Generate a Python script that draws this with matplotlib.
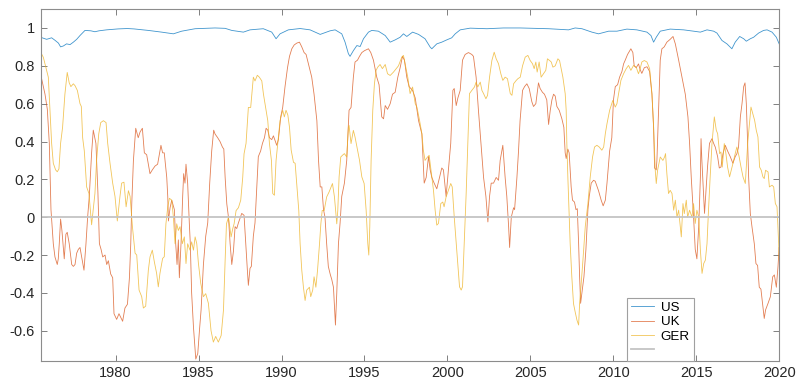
import matplotlib
matplotlib.use("Agg")
import matplotlib.pyplot as plt

plt.rcParams['font.family'] = ['Liberation Sans', 'DejaVu Sans']

# --- data (year, correlation) ---
us_t = [1975.50, 1975.84, 1976.14, 1976.34, 1976.55, 1976.68, 1976.85, 1977.04, 1977.25, 1977.45,
        1977.65, 1977.85, 1978.15, 1978.50, 1978.75, 1979.00, 1979.45, 1980.15, 1980.70, 1981.10,
        1981.97, 1982.77, 1983.48, 1983.98, 1984.79, 1985.99, 1986.60, 1987.00, 1987.70, 1988.10,
        1988.90, 1989.41, 1989.67, 1989.91, 1990.41, 1991.12, 1991.72, 1992.33, 1992.93, 1993.23,
        1993.63, 1993.83, 1994.03, 1994.13, 1994.33, 1994.54, 1994.74, 1994.94, 1995.24, 1995.44,
        1995.84, 1996.25, 1996.55, 1996.85, 1997.15, 1997.35, 1997.55, 1997.90, 1998.26, 1998.65,
        1998.96, 1999.06, 1999.36, 1999.66, 1999.96, 2000.26, 2000.47, 2000.77, 2001.37, 2002.38,
        2003.38, 2004.39, 2006.10, 2007.30, 2007.70, 2008.11, 2008.71, 2009.11, 2009.72, 2010.22,
        2010.82, 2011.42, 2012.03, 2012.27, 2012.43, 2012.59, 2012.83, 2013.43, 2014.24, 2014.84,
        2015.25, 2015.65, 2016.05, 2016.25, 2016.55, 2016.85, 2017.15, 2017.35, 2017.62, 2017.86,
        2018.02, 2018.26, 2018.46, 2018.76, 2019.06, 2019.27, 2019.57, 2019.83, 2020.00]
us_v = [0.950, 0.940, 0.948, 0.935, 0.920, 0.900, 0.905, 0.916, 0.912, 0.925,
        0.940, 0.960, 0.987, 0.985, 0.980, 0.985, 0.990, 0.995, 0.997, 0.995,
        0.987, 0.978, 0.969, 0.983, 0.996, 1.000, 0.998, 0.987, 0.978, 0.990,
        0.996, 0.978, 0.943, 0.969, 0.990, 0.997, 0.990, 0.966, 0.985, 0.990,
        0.969, 0.925, 0.864, 0.850, 0.880, 0.907, 0.902, 0.943, 0.978, 0.987,
        0.983, 0.960, 0.925, 0.937, 0.951, 0.969, 0.955, 0.978, 0.966, 0.943,
        0.899, 0.890, 0.916, 0.925, 0.937, 0.948, 0.969, 0.990, 0.999, 0.996,
        1.000, 1.000, 0.996, 0.990, 1.000, 0.996, 0.978, 0.969, 0.983, 0.983,
        0.994, 0.990, 0.978, 0.960, 0.925, 0.951, 0.983, 0.994, 0.990, 0.983,
        0.978, 0.990, 0.983, 0.973, 0.934, 0.916, 0.890, 0.925, 0.955, 0.943,
        0.930, 0.943, 0.951, 0.973, 0.987, 0.990, 0.978, 0.951, 0.916]

uk_t = [1975.49, 1975.74, 1975.88, 1976.00, 1976.10, 1976.24, 1976.34, 1976.48, 1976.54, 1976.60,
        1976.68, 1976.76, 1976.90, 1977.00, 1977.08, 1977.20, 1977.35, 1977.45, 1977.55, 1977.65,
        1977.75, 1977.85, 1977.95, 1978.09, 1978.21, 1978.31, 1978.41, 1978.55, 1978.65, 1978.81,
        1978.93, 1979.02, 1979.12, 1979.22, 1979.36, 1979.46, 1979.56, 1979.70, 1979.82, 1979.90,
        1980.06, 1980.20, 1980.42, 1980.56, 1980.71, 1980.83, 1980.91, 1980.97, 1981.07, 1981.21,
        1981.36, 1981.47, 1981.61, 1981.73, 1981.87, 1982.07, 1982.21, 1982.37, 1982.53, 1982.67,
        1982.73, 1982.83, 1982.93, 1983.08, 1983.14, 1983.18, 1983.28, 1983.38, 1983.54, 1983.62,
        1983.70, 1983.78, 1983.84, 1983.94, 1984.04, 1984.10, 1984.18, 1984.24, 1984.34, 1984.44,
        1984.50, 1984.58, 1984.69, 1984.83, 1984.95, 1985.05, 1985.15, 1985.29, 1985.43, 1985.55,
        1985.67, 1985.79, 1985.91, 1985.99, 1986.15, 1986.29, 1986.44, 1986.52, 1986.60, 1986.70,
        1986.80, 1986.90, 1987.00, 1987.10, 1987.20, 1987.30, 1987.40, 1987.60, 1987.74, 1987.84,
        1987.94, 1988.00, 1988.10, 1988.18, 1988.30, 1988.40, 1988.50, 1988.60, 1988.74, 1988.85,
        1988.97, 1989.07, 1989.17, 1989.27, 1989.41, 1989.51, 1989.71, 1989.81, 1989.95, 1990.07,
        1990.21, 1990.36, 1990.48, 1990.62, 1990.76, 1990.92, 1991.08, 1991.22, 1991.36, 1991.48,
        1991.62, 1991.82, 1991.96, 1992.13, 1992.23, 1992.33, 1992.43, 1992.53, 1992.62, 1992.72,
        1992.82, 1992.93, 1993.03, 1993.13, 1993.25, 1993.33, 1993.43, 1993.53, 1993.63, 1993.79,
        1993.93, 1994.07, 1994.19, 1994.33, 1994.43, 1994.58, 1994.70, 1994.84, 1995.00, 1995.24,
        1995.38, 1995.54, 1995.74, 1995.88, 1996.04, 1996.15, 1996.25, 1996.39, 1996.55, 1996.69,
        1996.85, 1997.01, 1997.15, 1997.29, 1997.41, 1997.55, 1997.69, 1997.90, 1998.06, 1998.26,
        1998.46, 1998.60, 1998.72, 1998.86, 1998.96, 1999.06, 1999.20, 1999.36, 1999.52, 1999.66,
        1999.76, 1999.92, 2000.06, 2000.20, 2000.33, 2000.41, 2000.53, 2000.63, 2000.77, 2000.91,
        2001.07, 2001.27, 2001.47, 2001.57, 2001.73, 2001.87, 2002.02, 2002.18, 2002.32, 2002.44,
        2002.54, 2002.64, 2002.78, 2002.94, 2003.08, 2003.18, 2003.34, 2003.48, 2003.58, 2003.69,
        2003.75, 2003.85, 2003.99, 2004.05, 2004.19, 2004.28, 2004.38, 2004.53, 2004.65, 2004.79,
        2004.93, 2005.09, 2005.19, 2005.33, 2005.49, 2005.59, 2005.73, 2005.85, 2005.99, 2006.10,
        2006.20, 2006.30, 2006.40, 2006.50, 2006.60, 2006.74, 2006.90, 2007.02, 2007.10, 2007.16,
        2007.26, 2007.34, 2007.46, 2007.54, 2007.66, 2007.75, 2007.83, 2007.91, 2007.97, 2008.03,
        2008.11, 2008.23, 2008.35, 2008.47, 2008.55, 2008.67, 2008.81, 2008.91, 2009.11, 2009.27,
        2009.39, 2009.52, 2009.62, 2009.78, 2009.91, 2010.01, 2010.12, 2010.26, 2010.38, 2010.52,
        2010.62, 2010.72, 2010.86, 2011.06, 2011.18, 2011.26, 2011.38, 2011.52, 2011.62, 2011.72,
        2011.87, 2012.03, 2012.19, 2012.33, 2012.43, 2012.49, 2012.59, 2012.63, 2012.73, 2012.83,
        2012.93, 2013.07, 2013.23, 2013.43, 2013.60, 2013.74, 2013.94, 2014.14, 2014.34, 2014.50,
        2014.60, 2014.70, 2014.84, 2014.94, 2015.04, 2015.15, 2015.25, 2015.29, 2015.34, 2015.44,
        2015.50, 2015.58, 2015.68, 2015.80, 2015.95, 2016.05, 2016.15, 2016.29, 2016.39, 2016.49,
        2016.61, 2016.75, 2016.89, 2017.05, 2017.21, 2017.35, 2017.45, 2017.55, 2017.66, 2017.76,
        2017.86, 2017.94, 2018.02, 2018.10, 2018.16, 2018.26, 2018.36, 2018.50, 2018.60, 2018.70,
        2018.80, 2018.90, 2019.00, 2019.10, 2019.18, 2019.33, 2019.47, 2019.61, 2019.71, 2019.83,
        2019.93, 2020.00]
uk_v = [0.75, 0.65, 0.57, 0.39, 0.04, -0.14, -0.21, -0.25, -0.22, -0.14,
        -0.01, -0.07, -0.22, -0.09, -0.08, -0.14, -0.25, -0.26, -0.25, -0.19,
        -0.17, -0.16, -0.21, -0.28, -0.14, 0.00, 0.11, 0.34, 0.46, 0.39,
        0.13, -0.14, -0.17, -0.21, -0.20, -0.25, -0.23, -0.30, -0.32, -0.51,
        -0.54, -0.51, -0.55, -0.48, -0.46, -0.32, -0.14, 0.07, 0.30, 0.47,
        0.42, 0.45, 0.47, 0.34, 0.33, 0.23, 0.25, 0.27, 0.28, 0.35,
        0.38, 0.34, 0.34, 0.21, 0.11, -0.02, 0.05, 0.09, 0.04, -0.14,
        -0.25, -0.12, -0.32, -0.14, 0.11, 0.23, 0.18, 0.28, 0.18, -0.03,
        -0.14, -0.40, -0.58, -0.75, -0.72, -0.60, -0.49, -0.25, -0.10, -0.03,
        0.18, 0.35, 0.46, 0.44, 0.42, 0.40, 0.37, 0.36, 0.21, 0.07,
        0.00, -0.14, -0.25, -0.18, -0.05, -0.06, -0.03, 0.02, 0.01, -0.14,
        -0.28, -0.36, -0.27, -0.26, -0.10, -0.03, 0.14, 0.32, 0.35, 0.39,
        0.42, 0.47, 0.46, 0.42, 0.41, 0.43, 0.38, 0.41, 0.53, 0.58,
        0.69, 0.79, 0.85, 0.89, 0.91, 0.92, 0.925, 0.90, 0.87, 0.86,
        0.81, 0.74, 0.65, 0.51, 0.30, 0.16, 0.16, 0.04, 0.00, -0.14,
        -0.26, -0.30, -0.33, -0.37, -0.57, -0.40, -0.14, -0.03, 0.11, 0.18,
        0.30, 0.565, 0.58, 0.74, 0.82, 0.83, 0.85, 0.87, 0.88, 0.89,
        0.87, 0.83, 0.74, 0.70, 0.53, 0.52, 0.59, 0.57, 0.60, 0.65,
        0.66, 0.74, 0.79, 0.85, 0.83, 0.74, 0.69, 0.67, 0.63, 0.51,
        0.44, 0.18, 0.21, 0.32, 0.25, 0.21, 0.18, 0.15, 0.21, 0.26,
        0.25, 0.11, 0.25, 0.39, 0.67, 0.68, 0.59, 0.63, 0.67, 0.83,
        0.86, 0.87, 0.86, 0.85, 0.74, 0.565, 0.39, 0.21, 0.11, -0.025,
        0.11, 0.18, 0.18, 0.21, 0.195, 0.30, 0.38, 0.21, 0.11, -0.05,
        -0.16, 0.00, 0.05, 0.04, 0.21, 0.34, 0.51, 0.67, 0.69, 0.705,
        0.68, 0.61, 0.585, 0.60, 0.71, 0.68, 0.66, 0.65, 0.62, 0.49,
        0.565, 0.62, 0.65, 0.64, 0.585, 0.565, 0.52, 0.475, 0.34, 0.31,
        0.36, 0.34, 0.16, 0.09, 0.08, 0.04, 0.045, -0.14, -0.315, -0.455,
        -0.40, -0.315, -0.17, 0.04, 0.11, 0.18, 0.195, 0.19, 0.14, 0.09,
        0.06, 0.09, 0.18, 0.35, 0.42, 0.62, 0.69, 0.70, 0.74, 0.77,
        0.81, 0.83, 0.86, 0.89, 0.87, 0.80, 0.79, 0.81, 0.78, 0.76,
        0.79, 0.795, 0.77, 0.65, 0.475, 0.26, 0.25, 0.30, 0.565, 0.83,
        0.89, 0.90, 0.925, 0.94, 0.955, 0.916, 0.83, 0.74, 0.65, 0.53,
        0.39, 0.21, 0.00, -0.17, -0.22, -0.05, 0.21, 0.415, 0.30, 0.125,
        0.02, 0.125, 0.265, 0.39, 0.415, 0.39, 0.37, 0.32, 0.26, 0.265,
        0.335, 0.38, 0.35, 0.32, 0.285, 0.32, 0.335, 0.37, 0.53, 0.60,
        0.69, 0.71, 0.60, 0.39, 0.21, 0.02, -0.05, -0.14, -0.245, -0.255,
        -0.37, -0.38, -0.455, -0.535, -0.49, -0.455, -0.42, -0.315, -0.305, -0.37,
        -0.26, -0.16]

ger_t = [1975.49, 1975.64, 1975.80, 1975.94, 1976.04, 1976.14, 1976.24, 1976.38, 1976.48, 1976.58,
         1976.68, 1976.80, 1976.94, 1977.08, 1977.20, 1977.30, 1977.45, 1977.55, 1977.69, 1977.85,
         1977.93, 1978.01, 1978.11, 1978.25, 1978.39, 1978.55, 1978.65, 1978.75, 1978.85, 1978.98,
         1979.10, 1979.26, 1979.42, 1979.52, 1979.66, 1979.82, 1979.96, 1980.10, 1980.26, 1980.36,
         1980.50, 1980.63, 1980.77, 1980.87, 1981.01, 1981.17, 1981.27, 1981.41, 1981.57, 1981.67,
         1981.81, 1981.97, 1982.07, 1982.21, 1982.33, 1982.47, 1982.57, 1982.67, 1982.83, 1982.93,
         1983.03, 1983.14, 1983.24, 1983.38, 1983.48, 1983.58, 1983.68, 1983.78, 1983.88, 1984.02,
         1984.14, 1984.24, 1984.34, 1984.48, 1984.58, 1984.69, 1984.79, 1984.89, 1984.99, 1985.13,
         1985.29, 1985.43, 1985.59, 1985.75, 1985.89, 1986.03, 1986.19, 1986.36, 1986.50, 1986.60,
         1986.68, 1986.80, 1986.96, 1987.06, 1987.14, 1987.26, 1987.40, 1987.54, 1987.66, 1987.74,
         1987.86, 1988.00, 1988.14, 1988.30, 1988.40, 1988.54, 1988.66, 1988.81, 1988.91, 1989.07,
         1989.17, 1989.27, 1989.39, 1989.47, 1989.57, 1989.67, 1989.77, 1989.91, 1990.01, 1990.07,
         1990.17, 1990.27, 1990.38, 1990.48, 1990.58, 1990.72, 1990.82, 1990.96, 1991.04, 1991.12,
         1991.22, 1991.32, 1991.42, 1991.52, 1991.68, 1991.76, 1991.88, 1991.96, 1992.07, 1992.17,
         1992.29, 1992.37, 1992.45, 1992.57, 1992.72, 1992.87, 1993.07, 1993.19, 1993.33, 1993.39,
         1993.47, 1993.57, 1993.67, 1993.79, 1993.93, 1994.03, 1994.07, 1994.19, 1994.33, 1994.43,
         1994.58, 1994.70, 1994.84, 1994.98, 1995.10, 1995.20, 1995.26, 1995.32, 1995.40, 1995.50,
         1995.60, 1995.70, 1995.80, 1995.94, 1996.08, 1996.25, 1996.39, 1996.55, 1996.75, 1996.91,
         1997.05, 1997.25, 1997.35, 1997.45, 1997.61, 1997.75, 1997.90, 1998.06, 1998.16, 1998.32,
         1998.46, 1998.55, 1998.65, 1998.80, 1998.90, 1999.06, 1999.16, 1999.26, 1999.36, 1999.46,
         1999.60, 1999.72, 1999.80, 1999.92, 2000.06, 2000.20, 2000.29, 2000.41, 2000.53, 2000.63,
         2000.73, 2000.83, 2000.91, 2001.01, 2001.13, 2001.23, 2001.33, 2001.47, 2001.63, 2001.73,
         2001.83, 2001.98, 2002.08, 2002.18, 2002.32, 2002.42, 2002.54, 2002.68, 2002.82, 2002.94,
         2003.08, 2003.22, 2003.34, 2003.48, 2003.62, 2003.79, 2003.89, 2003.99, 2004.15, 2004.25,
         2004.39, 2004.53, 2004.69, 2004.85, 2004.99, 2005.13, 2005.23, 2005.33, 2005.41, 2005.53,
         2005.65, 2005.79, 2005.93, 2006.03, 2006.16, 2006.26, 2006.36, 2006.50, 2006.66, 2006.76,
         2006.86, 2006.96, 2007.10, 2007.16, 2007.20, 2007.26, 2007.34, 2007.40, 2007.50, 2007.60,
         2007.70, 2007.81, 2007.91, 2007.97, 2008.05, 2008.17, 2008.31, 2008.47, 2008.61, 2008.75,
         2008.87, 2009.01, 2009.15, 2009.31, 2009.42, 2009.52, 2009.62, 2009.78, 2009.97, 2010.12,
         2010.22, 2010.32, 2010.46, 2010.62, 2010.78, 2010.92, 2011.06, 2011.22, 2011.38, 2011.52,
         2011.62, 2011.72, 2011.87, 2012.03, 2012.19, 2012.33, 2012.43, 2012.53, 2012.59, 2012.67,
         2012.83, 2012.99, 2013.09, 2013.15, 2013.23, 2013.33, 2013.43, 2013.54, 2013.64, 2013.74,
         2013.84, 2013.94, 2014.04, 2014.10, 2014.20, 2014.28, 2014.40, 2014.48, 2014.60, 2014.74,
         2014.84, 2014.94, 2015.04, 2015.15, 2015.25, 2015.35, 2015.45, 2015.55, 2015.65, 2015.74,
         2015.84, 2015.95, 2016.09, 2016.21, 2016.29, 2016.41, 2016.49, 2016.57, 2016.69, 2016.79,
         2016.89, 2017.01, 2017.11, 2017.21, 2017.35, 2017.45, 2017.59, 2017.70, 2017.82, 2017.96,
         2018.10, 2018.30, 2018.46, 2018.52, 2018.62, 2018.72, 2018.82, 2018.92, 2019.02, 2019.10,
         2019.18, 2019.33, 2019.41, 2019.57, 2019.67, 2019.77, 2019.87, 2019.97, 2020.00]
ger_v = [0.87, 0.845, 0.79, 0.74, 0.565, 0.39, 0.285, 0.25, 0.24, 0.255,
         0.39, 0.475, 0.65, 0.765, 0.71, 0.69, 0.705, 0.695, 0.67, 0.60,
         0.585, 0.42, 0.35, 0.16, 0.125, -0.04, 0.04, 0.125, 0.30, 0.44,
         0.50, 0.51, 0.50, 0.39, 0.285, 0.18, 0.11, -0.02, 0.11, 0.18,
         0.185, 0.055, 0.14, 0.11, -0.05, -0.19, -0.20, -0.385, -0.42, -0.48,
         -0.47, -0.28, -0.21, -0.174, -0.235, -0.297, -0.368, -0.297, -0.218, -0.209,
         -0.035, 0.055, 0.10, 0.09, 0.00, -0.14, -0.035, -0.07, -0.05, -0.14,
         -0.104, -0.245, -0.14, -0.174, -0.13, -0.174, -0.104, -0.14, -0.245, -0.35,
         -0.42, -0.404, -0.455, -0.60, -0.66, -0.63, -0.66, -0.625, -0.49, -0.227,
         -0.035, 0.00, -0.104, -0.06, -0.035, 0.035, 0.05, 0.09, 0.21, 0.335,
         0.39, 0.58, 0.58, 0.74, 0.72, 0.75, 0.74, 0.72, 0.65, 0.565,
         0.51, 0.39, 0.30, 0.125, 0.116, 0.30, 0.39, 0.51, 0.545, 0.565,
         0.53, 0.565, 0.54, 0.475, 0.355, 0.29, 0.285, 0.13, 0.035, -0.14,
         -0.28, -0.37, -0.44, -0.385, -0.37, -0.42, -0.385, -0.315, -0.37, -0.28,
         -0.14, -0.035, 0.035, 0.035, 0.107, 0.134, 0.178, 0.107, -0.035, 0.035,
         0.213, 0.318, 0.327, 0.336, 0.318, 0.477, 0.485, 0.389, 0.459, 0.424,
         0.354, 0.301, 0.213, 0.178, 0.037, -0.139, -0.20, -0.05, 0.30, 0.565,
         0.705, 0.776, 0.793, 0.807, 0.785, 0.807, 0.758, 0.749, 0.767, 0.785,
         0.80, 0.846, 0.855, 0.811, 0.74, 0.653, 0.688, 0.60, 0.582, 0.512,
         0.442, 0.354, 0.30, 0.318, 0.327, 0.213, 0.142, 0.037, -0.042, -0.033,
         0.072, 0.08, 0.055, 0.107, 0.142, 0.178, 0.16, 0.002, -0.139, -0.262,
         -0.368, -0.385, -0.368, -0.139, 0.125, 0.389, 0.653, 0.67, 0.688, 0.714,
         0.688, 0.714, 0.67, 0.653, 0.626, 0.644, 0.74, 0.828, 0.872, 0.837,
         0.811, 0.758, 0.723, 0.74, 0.732, 0.653, 0.644, 0.705, 0.723, 0.732,
         0.74, 0.80, 0.846, 0.855, 0.828, 0.811, 0.785, 0.82, 0.767, 0.82,
         0.74, 0.758, 0.776, 0.837, 0.828, 0.82, 0.793, 0.80, 0.837, 0.828,
         0.785, 0.74, 0.653, 0.565, 0.389, 0.213, 0.002, -0.139, -0.315, -0.456,
         -0.50, -0.544, -0.57, -0.456, -0.368, -0.227, -0.05, 0.072, 0.213, 0.318,
         0.371, 0.38, 0.371, 0.354, 0.371, 0.442, 0.494, 0.565, 0.617, 0.582,
         0.60, 0.653, 0.723, 0.758, 0.785, 0.802, 0.776, 0.802, 0.793, 0.758,
         0.785, 0.82, 0.828, 0.82, 0.785, 0.653, 0.477, 0.248, 0.178, 0.248,
         0.318, 0.30, 0.318, 0.336, 0.23, 0.125, 0.142, 0.125, 0.037, 0.09,
         0.00, 0.037, -0.05, -0.104, 0.072, 0.019, 0.09, 0.00, 0.037, 0.00,
         0.072, -0.033, 0.037, 0.00, -0.174, -0.297, -0.245, -0.227, -0.139, 0.037,
         0.213, 0.389, 0.53, 0.459, 0.442, 0.336, 0.345, 0.265, 0.389, 0.336,
         0.265, 0.213, 0.248, 0.283, 0.336, 0.371, 0.318, 0.265, 0.213, 0.178,
         0.389, 0.582, 0.53, 0.512, 0.459, 0.424, 0.265, 0.248, 0.213, 0.204,
         0.248, 0.239, 0.16, 0.169, 0.16, 0.072, 0.055, -0.139, -0.227]

series_names = ['US', 'UK', 'GER']
series_colors = ['#0072BD', '#D95319', '#EDB120']
xticks = [1980, 1985, 1990, 1995, 2000, 2005, 2010, 2015, 2020]
yticks = [-0.6, -0.4, -0.2, 0, 0.2, 0.4, 0.6, 0.8, 1]
ytick_labels = ['-0.6', '-0.4', '-0.2', '0', '0.2', '0.4', '0.6', '0.8', '1']

fig = plt.figure(figsize=(7.98, 3.83), dpi=100)
ax = fig.add_axes([0.0514, 0.0574, 0.925, 0.919])

handles = []
for t, v, c in zip([us_t, uk_t, ger_t], [us_v, uk_v, ger_v], series_colors):
    h, = ax.plot(t, v, color=c, lw=0.6, alpha=0.75)
    handles.append(h)
zline = ax.axhline(0, color='#c4c4c4', lw=1.3)
handles.append(zline)

ax.set_xlim(1975.5, 2020.0)
ax.set_ylim(-0.76, 1.1)
ax.set_xticks(xticks)
ax.set_yticks(yticks)
ax.set_yticklabels(ytick_labels)
ax.tick_params(direction='in', top=True, right=True, length=4.3, width=0.7,
               color='#808080', labelcolor='#262626', labelsize=10.5)
ax.tick_params(axis='y', pad=4.3)
ax.tick_params(axis='x', pad=3.5)
for s in ax.spines.values():
    s.set_color('#8c8c8c')
    s.set_linewidth(0.8)

leg = ax.legend(handles, series_names + [''], loc='lower left',
                bbox_to_anchor=(0.7933, 0.0), borderaxespad=0, fontsize=9.6,
                handlelength=1.75, handletextpad=0.5, labelspacing=0.15,
                borderpad=0.3, fancybox=False, framealpha=1)
leg.get_frame().set_edgecolor('#a0a0a0')
leg.get_frame().set_linewidth(0.8)

fig.savefig('out.png', dpi=100)
